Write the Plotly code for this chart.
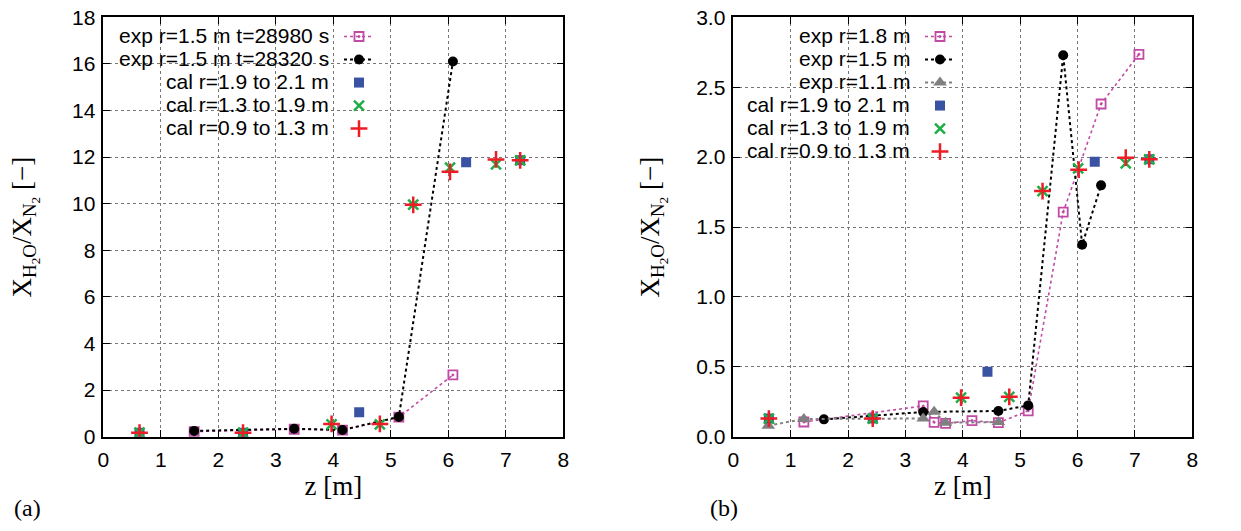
import plotly.graph_objects as go

# ---------- panel (a) data ----------
a_exp28980_z = [1.58, 3.32, 4.16, 5.14, 6.08]
a_exp28980_y = [0.22, 0.32, 0.28, 0.84, 2.65]
a_exp28320_z = [1.58, 3.32, 4.16, 5.14, 6.08]
a_exp28320_y = [0.25, 0.34, 0.29, 0.85, 16.1]
a_cal1_z = [0.63, 2.43, 4.45, 6.31, 7.25]
a_cal1_y = [0.17, 0.17, 1.05, 11.78, 11.86]
a_cal2_z = [0.63, 2.43, 3.97, 4.81, 5.39, 6.03, 6.83, 7.25]
a_cal2_y = [0.17, 0.17, 0.53, 0.53, 9.96, 11.55, 11.69, 11.86]
a_cal3_z = [0.63, 2.43, 3.97, 4.81, 5.39, 6.03, 6.83, 7.25]
a_cal3_y = [0.17, 0.17, 0.55, 0.55, 9.95, 11.37, 11.90, 11.86]
a_names = ["exp r=1.5 m t=28980 s", "exp r=1.5 m t=28320 s",
           "cal r=1.9 to 2.1 m", "cal r=1.3 to 1.9 m", "cal r=0.9 to 1.3 m"]

# ---------- panel (b) data ----------
b_exp18_z = [1.23, 3.31, 3.50, 3.70, 4.16, 4.62, 5.14, 5.75, 6.41, 7.07]
b_exp18_y = [0.105, 0.22, 0.103, 0.095, 0.115, 0.10, 0.185, 1.607, 2.38, 2.735]
b_exp15_z = [1.58, 3.31, 4.62, 5.14, 5.75, 6.08, 6.41]
b_exp15_y = [0.124, 0.177, 0.184, 0.224, 2.728, 1.373, 1.798]
b_exp11_z = [0.61, 1.23, 3.31, 3.50, 3.70, 4.62]
b_exp11_y = [0.079, 0.127, 0.13, 0.178, 0.10, 0.105]
b_cal1_z = [0.62, 2.43, 4.43, 6.30, 7.25]
b_cal1_y = [0.13, 0.13, 0.465, 1.967, 1.984]
b_cal2_z = [0.62, 2.43, 3.97, 4.81, 5.39, 6.01, 6.84, 7.25]
b_cal2_y = [0.13, 0.13, 0.279, 0.285, 1.757, 1.92, 1.955, 1.984]
b_cal3_z = [0.62, 2.43, 3.97, 4.81, 5.39, 6.02, 6.84, 7.25]
b_cal3_y = [0.13, 0.13, 0.279, 0.285, 1.757, 1.91, 1.996, 1.984]
b_names = ["exp r=1.8 m", "exp r=1.5 m", "exp r=1.1 m",
           "cal r=1.9 to 2.1 m", "cal r=1.3 to 1.9 m", "cal r=0.9 to 1.3 m"]

x_ticks = list(range(0, 9))
a_y_ticks = list(range(0, 19, 2))
b_y_ticks = [0.0, 0.5, 1.0, 1.5, 2.0, 2.5, 3.0]

MAG = "#C04AA4"
BLK = "#000000"
GRY = "#808080"
BLU = "#3A52A2"
GRN = "#1FAE45"
RED = "#EE1C24"

W, H = 1241, 531
SANS = "Liberation Sans, Arial, sans-serif"
SERIF = "Liberation Serif, DejaVu Serif, serif"
TICKFONT = dict(family=SANS, size=21, color="black")
YTITLE = "X<sub>H<sub>2</sub>O</sub>/X<sub>N<sub>2</sub></sub> [−]"

fig = go.Figure()


def exp_trace(x, y, color, symbol, size, xa, ya, leg, lw=2.0, mlw=0):
    return go.Scatter(
        x=x, y=y, name=" ", mode="lines+markers",
        line=dict(color=color, width=lw, dash="dot"),
        marker=dict(color=color, symbol=symbol, size=size,
                    line=dict(color=color, width=mlw)),
        xaxis=xa, yaxis=ya, legend=leg)


def blue_trace(x, y, xa, ya, leg):
    return go.Scatter(x=x, y=y, name=" ", mode="markers",
                      marker=dict(color=BLU, symbol="square", size=10, line=dict(width=0)),
                      xaxis=xa, yaxis=ya, legend=leg)


def green_trace(x, y, xa, ya, leg):
    return go.Scatter(x=x, y=y, name=" ", mode="markers",
                      marker=dict(symbol="x-thin", size=10, line=dict(color=GRN, width=2.5)),
                      xaxis=xa, yaxis=ya, legend=leg)


def red_trace(x, y, xa, ya, leg):
    return go.Scatter(x=x, y=y, name=" ", mode="markers",
                      marker=dict(symbol="cross-thin", size=12, line=dict(color=RED, width=2.5)),
                      xaxis=xa, yaxis=ya, legend=leg)


# panel (a)
fig.add_trace(exp_trace(a_exp28980_z, a_exp28980_y, MAG, "square-open-dot", 9, "x", "y", "legend", lw=1.6, mlw=1.8))
fig.add_trace(exp_trace(a_exp28320_z, a_exp28320_y, BLK, "circle", 10, "x", "y", "legend"))
fig.add_trace(blue_trace(a_cal1_z, a_cal1_y, "x", "y", "legend"))
fig.add_trace(green_trace(a_cal2_z, a_cal2_y, "x", "y", "legend"))
fig.add_trace(red_trace(a_cal3_z, a_cal3_y, "x", "y", "legend"))

# panel (b)
fig.add_trace(exp_trace(b_exp18_z, b_exp18_y, MAG, "square-open-dot", 9, "x2", "y2", "legend2", lw=1.6, mlw=1.8))
fig.add_trace(exp_trace(b_exp15_z, b_exp15_y, BLK, "circle", 10, "x2", "y2", "legend2"))
fig.add_trace(exp_trace(b_exp11_z, b_exp11_y, GRY, "triangle-up", 12, "x2", "y2", "legend2"))
fig.add_trace(blue_trace(b_cal1_z, b_cal1_y, "x2", "y2", "legend2"))
fig.add_trace(green_trace(b_cal2_z, b_cal2_y, "x2", "y2", "legend2"))
fig.add_trace(red_trace(b_cal3_z, b_cal3_y, "x2", "y2", "legend2"))


def xaxis(domain, anchor):
    return dict(domain=domain, anchor=anchor, range=[0, 8], tickvals=x_ticks,
                showline=True, mirror="ticks", linecolor="black", linewidth=1.5,
                ticks="inside", ticklen=7, tickcolor="black", tickwidth=1.2,
                showgrid=True, gridcolor="#777777", griddash="dot", gridwidth=1,
                zeroline=False, tickfont=TICKFONT, automargin=False, ticklabelstandoff=3,
                title=dict(text="z [m]", font=dict(family=SERIF, size=27, color="black"), standoff=0))


def yaxis(domain, anchor, rng, ticks, fmt):
    return dict(domain=domain, anchor=anchor, range=rng, tickvals=ticks, tickformat=fmt,
                showline=True, mirror="ticks", linecolor="black", linewidth=1.5,
                ticks="inside", ticklen=7, tickcolor="black", tickwidth=1.2,
                showgrid=True, gridcolor="#777777", griddash="dot", gridwidth=1,
                zeroline=False, tickfont=TICKFONT, automargin=False, ticklabelstandoff=2)


ytop, ybot = 17.3, 436.7
ydom = [1 - ybot / H, 1 - ytop / H]
LEG_FONT = 15.4   # sets the legend row pitch (~23 px)
ROW = 23.0
ROW0 = 35.0

annotations = []
# legend texts (right-aligned, gnuplot style: text left of the sample)
for i, nm in enumerate(a_names):
    annotations.append(dict(text=nm, x=331 / W, y=1 - (ROW0 + i * ROW) / H, xref="paper", yref="paper",
                            xanchor="right", yanchor="middle", showarrow=False,
                            font=dict(family=SANS, size=21, color="black")))
for i, nm in enumerate(b_names):
    annotations.append(dict(text=nm, x=912 / W, y=1 - (ROW0 + i * ROW) / H, xref="paper", yref="paper",
                            xanchor="right", yanchor="middle", showarrow=False,
                            font=dict(family=SANS, size=21, color="black")))
# y-axis titles
for xl in (4, 632):
    annotations.append(dict(text=YTITLE, textangle=-90, x=xl / W, y=1 - ((ytop + ybot) / 2) / H,
                            xref="paper", yref="paper", xanchor="left", yanchor="middle",
                            showarrow=False, font=dict(family=SERIF, size=27, color="black")))
# panel labels
annotations.append(dict(text="(a)", x=12 / W, y=1 - 508 / H, xref="paper", yref="paper",
                        xanchor="left", yanchor="middle", showarrow=False,
                        font=dict(family=SERIF, size=24, color="black")))
annotations.append(dict(text="(b)", x=708 / W, y=1 - 508 / H, xref="paper", yref="paper",
                        xanchor="left", yanchor="middle", showarrow=False,
                        font=dict(family=SERIF, size=24, color="black")))

fig.update_layout(
    width=W, height=H,
    margin=dict(l=0, r=0, t=0, b=0),
    paper_bgcolor="white", plot_bgcolor="white",
    xaxis=xaxis([103.3 / W, 563.3 / W], "y"),
    yaxis=yaxis(ydom, "x", [0, 18], a_y_ticks, "d"),
    xaxis2=xaxis([733.3 / W, 1192.3 / W], "y2"),
    yaxis2=yaxis(ydom, "x2", [0, 3], b_y_ticks, ".1f"),
    legend=dict(x=339 / W, y=1 - 20 / H, xanchor="left", yanchor="top",
                bgcolor="rgba(255,255,255,0)", borderwidth=0,
                font=dict(family=SANS, size=LEG_FONT, color="black"),
                itemwidth=30, tracegroupgap=0),
    legend2=dict(x=920 / W, y=1 - 20 / H, xanchor="left", yanchor="top",
                 bgcolor="rgba(255,255,255,0)", borderwidth=0,
                 font=dict(family=SANS, size=LEG_FONT, color="black"),
                 itemwidth=30, tracegroupgap=0),
    showlegend=True,
    annotations=annotations,
)

fig.write_html("out.html")
